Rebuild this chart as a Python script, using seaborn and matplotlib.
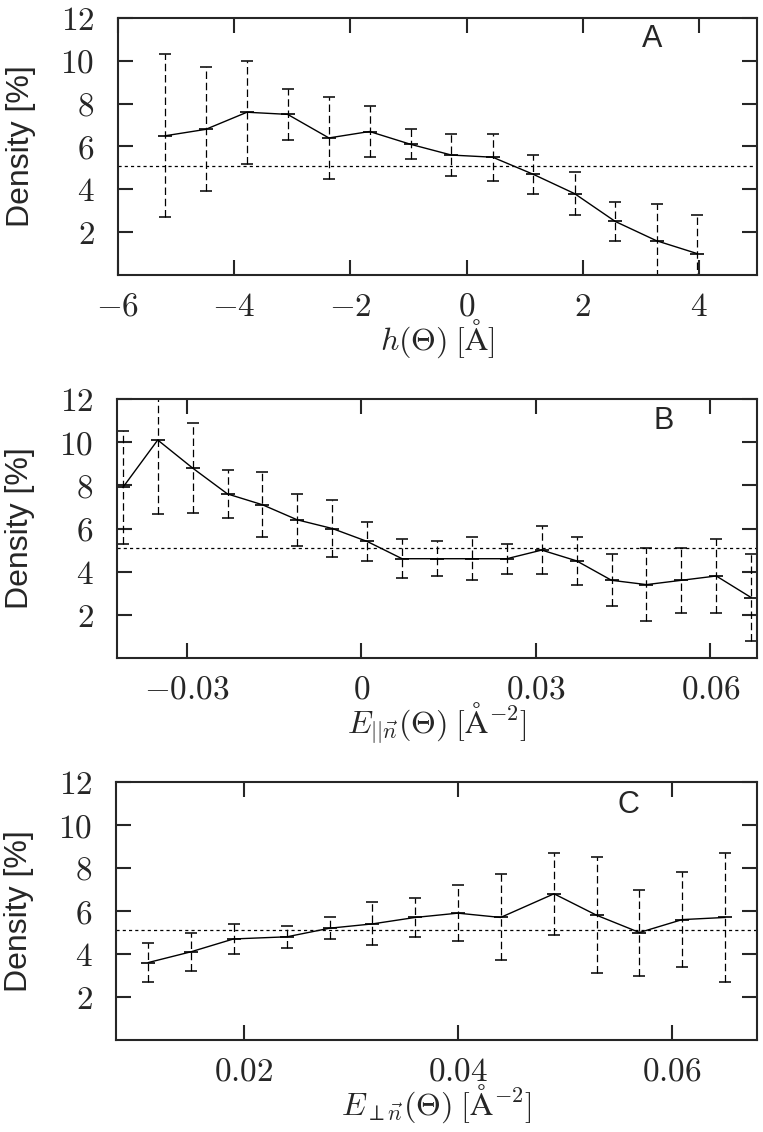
import numpy as np
import matplotlib
matplotlib.use("Agg")
import matplotlib.pyplot as plt
import seaborn as sns

# Panel A: density vs h(Theta)
h_x = [-5.19, -4.49, -3.78, -3.08, -2.37, -1.67, -0.96, -0.26, 0.45, 1.15, 1.86, 2.56, 3.27, 3.97]
h_y = [6.5, 6.8, 7.6, 7.5, 6.4, 6.7, 6.1, 5.6, 5.5, 4.7, 3.8, 2.5, 1.6, 1.0]
h_err = [3.8, 2.9, 2.4, 1.2, 1.9, 1.2, 0.7, 1.0, 1.1, 0.9, 1.0, 0.9, 1.7, 1.8]

# Panel B: density vs E_parallel
ep_x = [-0.041, -0.035, -0.029, -0.023, -0.017, -0.011, -0.005, 0.001, 0.007, 0.013,
        0.019, 0.025, 0.031, 0.037, 0.043, 0.049, 0.055, 0.061, 0.067]
ep_y = [7.9, 10.1, 8.8, 7.6, 7.1, 6.4, 6.0, 5.4, 4.6, 4.6,
        4.6, 4.6, 5.0, 4.5, 3.6, 3.4, 3.6, 3.8, 2.8]
ep_err = [2.6, 3.45, 2.1, 1.1, 1.5, 1.2, 1.3, 0.9, 0.9, 0.8,
          1.0, 0.7, 1.1, 1.1, 1.2, 1.7, 1.5, 1.7, 2.0]

# Panel C: density vs E_perp
en_x = [0.011, 0.015, 0.019, 0.024, 0.028, 0.032, 0.036, 0.040, 0.044, 0.049,
        0.053, 0.057, 0.061, 0.065]
en_y = [3.6, 4.1, 4.7, 4.8, 5.2, 5.4, 5.7, 5.9, 5.7, 6.8, 5.8, 5.0, 5.6, 5.7]
en_err = [0.9, 0.9, 0.7, 0.5, 0.5, 1.0, 0.9, 1.3, 2.0, 1.9, 2.7, 2.0, 2.2, 3.0]

mean_level = 5.1

sns.set_style("ticks")
plt.rcParams['mathtext.fontset'] = 'cm'
plt.rcParams['font.family'] = ['Liberation Sans', 'DejaVu Sans']

panels = [
    dict(x=h_x, y=h_y, err=h_err, xlim=(-6, 5), xticks=[-6, -4, -2, 0, 2, 4],
         xtl=["$-6$", "$-4$", "$-2$", "$0$", "$2$", "$4$"],
         xlabel=r"$h(\Theta)\;[\mathrm{\AA}]$", letter="A", lpos=(3.2, 11.0),
         rect=[118 / 763, 1 - 275 / 1132, 639 / 763, 257 / 1132]),
    dict(x=ep_x, y=ep_y, err=ep_err, xlim=(-0.042, 0.068), xticks=[-0.03, 0, 0.03, 0.06],
         xtl=["$-0.03$", "$0$", "$0.03$", "$0.06$"],
         xlabel=r"$E_{||\vec{n}}(\Theta)\;[\mathrm{\AA}^{-2}]$", letter="B", lpos=(0.052, 11.0),
         rect=[117 / 763, 1 - 658 / 1132, 640 / 763, 259 / 1132]),
    dict(x=en_x, y=en_y, err=en_err, xlim=(0.008, 0.068), xticks=[0.02, 0.04, 0.06],
         xtl=["$0.02$", "$0.04$", "$0.06$"],
         xlabel=r"$E_{\perp\vec{n}}(\Theta)\;[\mathrm{\AA}^{-2}]$", letter="C", lpos=(0.056, 10.95),
         rect=[116 / 763, 1 - 1040 / 1132, 641 / 763, 258 / 1132]),
]

fig = plt.figure(figsize=(7.63, 11.32), dpi=100)

for p in panels:
    ax = fig.add_axes(p['rect'])
    eb = ax.errorbar(p['x'], p['y'], yerr=p['err'], fmt='none', ecolor='black',
                     elinewidth=0.9, capsize=4, capthick=1.1)
    eb[2][0].set_linestyle((0, (6, 3)))
    sns.lineplot(x=p['x'], y=p['y'], ax=ax, color='black', lw=1.0, sort=False,
                 marker='_', markersize=10, markeredgewidth=1.2, markeredgecolor='black')
    ax.axhline(mean_level, color='black', lw=0.9, ls=(0, (2.5, 2.5)))
    ax.set_xlim(p['xlim'])
    ax.set_ylim(0, 12)
    ax.set_xticks(p['xticks'])
    ax.set_xticklabels(p['xtl'])
    ax.set_yticks([2, 4, 6, 8, 10, 12])
    ax.set_yticklabels(["$2$", "$4$", "$6$", "$8$", "$10$", "$12$"])
    ax.tick_params(direction='in', length=11, width=1.5, top=True, right=True, labelsize=24)
    ax.tick_params(axis='x', pad=12)
    ax.tick_params(axis='y', pad=17)
    for s in ax.spines.values():
        s.set_linewidth(1.5)
    ax.set_xlabel(p['xlabel'], fontsize=23, labelpad=-4)
    ax.set_ylabel("Density [%]", fontsize=23)
    ax.yaxis.set_label_coords(-0.128, 0.5)
    ax.text(p['lpos'][0], p['lpos'][1], p['letter'], fontsize=22, ha='center', va='center')

fig.savefig("out.png", dpi=100)
